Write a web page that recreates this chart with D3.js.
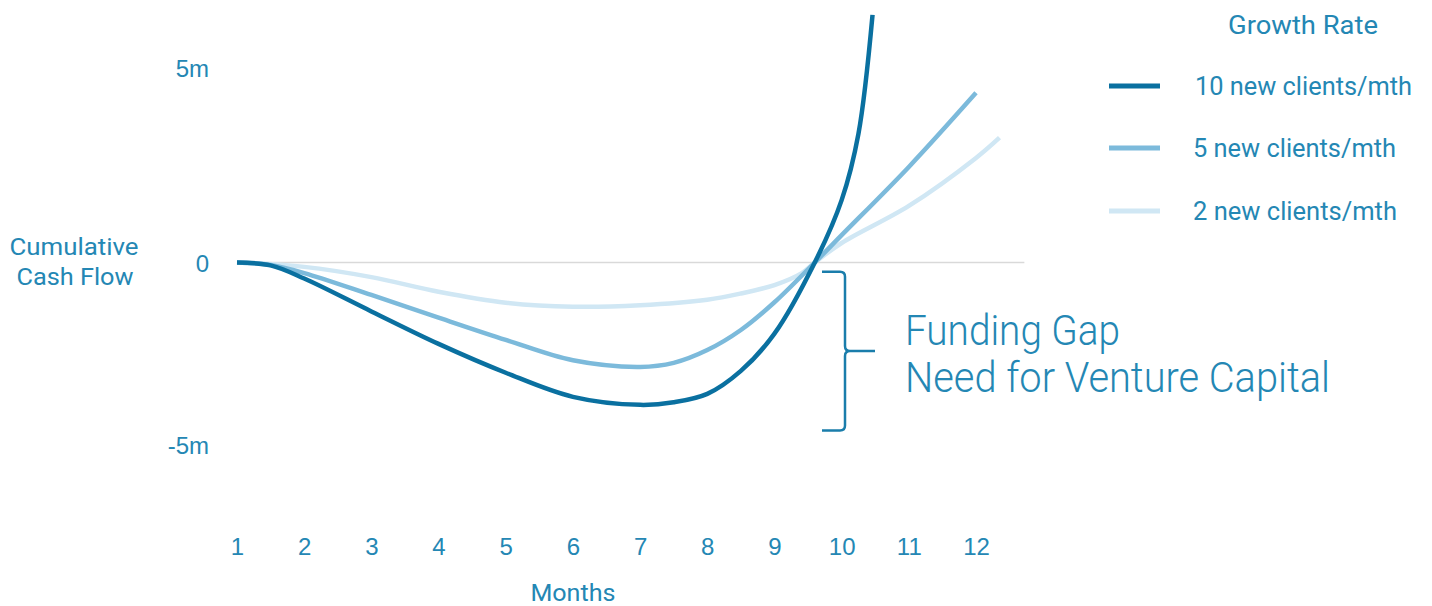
<!DOCTYPE html>
<html>
<head>
<meta charset="utf-8">
<script src="https://cdn.jsdelivr.net/npm/d3@7"></script>
<style>
  html, body { margin: 0; padding: 0; background: #ffffff; }
  svg { display: block; font-family: Roboto, "Open Sans", sans-serif; }
</style>
</head>
<body>
<svg id="chart" width="1432" height="606"></svg>
<script>
// Months on the x axis
const months = [1, 2, 3, 4, 5, 6, 7, 8, 9, 10, 11, 12];

// Cumulative cash flow (millions) by growth rate
const months10 = [1, 1.5, 2, 3, 4, 5, 6, 7, 7.5, 8, 8.5, 9, 9.6, 10, 10.25, 10.46];
const values10 = [0, -0.08, -0.44, -1.34, -2.23, -3.02, -3.68, -3.9, -3.83, -3.6, -2.97, -1.95, 0, 1.6, 3.3, 6.35];

const months5 = [1, 1.5, 2, 3, 4, 5, 6, 7, 7.5, 8, 8.5, 9, 9.6, 10, 11, 12];
const values5 = [0, -0.07, -0.29, -0.89, -1.51, -2.12, -2.68, -2.86, -2.75, -2.4, -1.85, -1.09, 0, 0.7, 2.45, 4.35];

const months2 = [1, 2, 3, 4, 5, 6, 7, 8, 8.5, 9, 9.4, 9.6, 10, 11, 12, 12.35];
const values2 = [0, -0.12, -0.4, -0.8, -1.1, -1.21, -1.17, -1.02, -0.85, -0.62, -0.3, 0, 0.5, 1.45, 2.68, 3.2];

// Y axis ticks
const yTicks = [-5, 0, 5];
const yTickLabels = ["-5m", "0", "5m"];

// Legend
const legendTitle = "Growth Rate";
const seriesNames = ["10 new clients/mth", "5 new clients/mth", "2 new clients/mth"];
const seriesColors = ["#0a70a0", "#7cbadb", "#d0e7f4"];

// Funding gap annotation (millions)
const gapRange = [-0.25, -4.6];
const gapLines = ["Funding Gap", "Need for Venture Capital"];
const zeroLineEnd = 12.72;

const textColor = "#2487b4";

const svg = d3.select("#chart");

const x = d3.scaleLinear().domain([1, 12]).range([237, 976]);
const y = d3.scaleLinear().domain([-5, 0, 5]).range([445, 262.5, 67.5]);

// zero baseline
svg.append("line")
  .attr("x1", x(1)).attr("x2", x(zeroLineEnd))
  .attr("y1", y(0)).attr("y2", y(0))
  .attr("stroke", "#d9d9d9").attr("stroke-width", 1.5);

// x axis (labels only)
const xAxis = svg.append("g")
  .attr("transform", "translate(0,546)")
  .call(d3.axisBottom(x).tickValues(months).tickFormat(d3.format("d")).tickSize(0).tickPadding(0));
xAxis.select(".domain").remove();
xAxis.selectAll("text")
  .attr("y", 0).attr("dy", "0.36em")
  .attr("fill", textColor)
  .style("font-size", "24px");

// y axis (labels only)
const yAxis = svg.append("g")
  .attr("transform", "translate(209,0)")
  .call(d3.axisLeft(y).tickValues(yTicks)
    .tickFormat((d, i) => yTickLabels[i]).tickSize(0).tickPadding(0));
yAxis.select(".domain").remove();
yAxis.selectAll("text")
  .attr("x", 0).attr("dy", "0.36em")
  .attr("fill", textColor)
  .style("font-size", "24px");

// axis titles
svg.append("text")
  .attr("x", x(6)).attr("y", 601)
  .attr("text-anchor", "middle")
  .attr("fill", textColor)
  .style("font-size", "24px")
  .attr("textLength", 85).attr("lengthAdjust", "spacingAndGlyphs")
  .text("Months");

const yTitle = svg.append("text")
  .attr("text-anchor", "middle")
  .attr("fill", textColor)
  .style("font-size", "24px");
yTitle.append("tspan").attr("x", 74).attr("y", 255)
  .attr("textLength", 129).attr("lengthAdjust", "spacingAndGlyphs").text("Cumulative");
yTitle.append("tspan").attr("x", 75).attr("y", 285)
  .attr("textLength", 117).attr("lengthAdjust", "spacingAndGlyphs").text("Cash Flow");

// lines
const line = d3.line()
  .x(d => x(d[0]))
  .y(d => y(d[1]))
  .curve(d3.curveCatmullRom.alpha(0.5));

const series = [
  { m: months2, v: values2, color: seriesColors[2] },
  { m: months5, v: values5, color: seriesColors[1] },
  { m: months10, v: values10, color: seriesColors[0] }
];

series.forEach(s => {
  svg.append("path")
    .datum(d3.zip(s.m, s.v))
    .attr("fill", "none")
    .attr("stroke", s.color)
    .attr("stroke-width", 4.5)
    .attr("stroke-linejoin", "round")
    .attr("d", line);
});

// funding gap bracket
const bTop = y(gapRange[0]);
const bBot = y(gapRange[1]);
const bMid = (bTop + bBot) / 2;
const bx = 845, r = 5;
svg.append("path")
  .attr("fill", "none")
  .attr("stroke", "#1a7dab")
  .attr("stroke-width", 2.5)
  .attr("d",
    `M822,${bTop} H${bx - r} Q${bx},${bTop} ${bx},${bTop + r} V${bMid - r} Q${bx},${bMid} ${bx + r},${bMid} H875` +
    ` M${bx + r},${bMid} Q${bx},${bMid} ${bx},${bMid + r} V${bBot - r} Q${bx},${bBot} ${bx - r},${bBot} H822`);

const gapText = svg.append("text")
  .attr("fill", textColor)
  .style("font-size", "42px")
  .style("font-weight", 300);
gapText.append("tspan").attr("x", 905).attr("y", 345)
  .attr("textLength", 215).attr("lengthAdjust", "spacingAndGlyphs").text(gapLines[0]);
gapText.append("tspan").attr("x", 905).attr("y", 392)
  .attr("textLength", 425).attr("lengthAdjust", "spacingAndGlyphs").text(gapLines[1]);

// legend
svg.append("text")
  .attr("x", 1303).attr("y", 34)
  .attr("text-anchor", "middle")
  .attr("fill", textColor)
  .style("font-size", "25px")
  .attr("textLength", 150).attr("lengthAdjust", "spacingAndGlyphs")
  .text(legendTitle);

const legendRows = [
  { y: 86, tx: 1195, w: 217 },
  { y: 148, tx: 1193, w: 203 },
  { y: 211, tx: 1193, w: 204 }
];

seriesNames.forEach((name, i) => {
  const row = legendRows[i];
  svg.append("line")
    .attr("x1", 1109).attr("x2", 1160)
    .attr("y1", row.y).attr("y2", row.y)
    .attr("stroke", seriesColors[i])
    .attr("stroke-width", 5);
  svg.append("text")
    .attr("x", row.tx).attr("y", row.y)
    .attr("dy", "0.36em")
    .attr("fill", textColor)
    .style("font-size", "25px")
    .attr("textLength", row.w).attr("lengthAdjust", "spacingAndGlyphs")
    .text(name);
});
</script>
</body>
</html>
